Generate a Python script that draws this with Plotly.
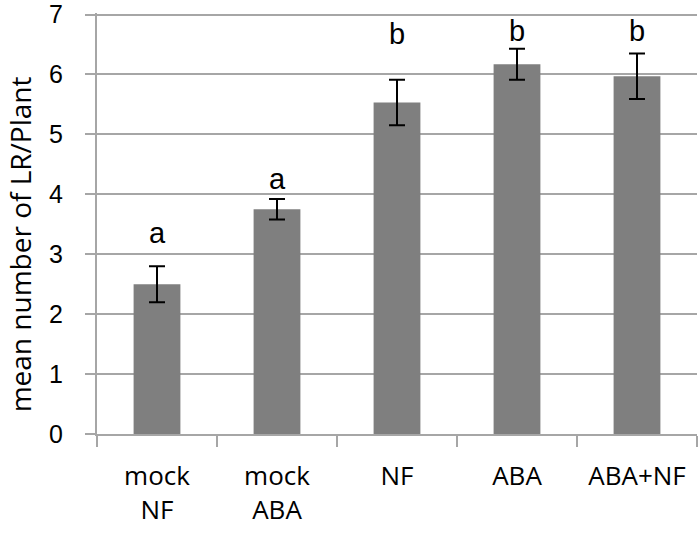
import plotly.graph_objects as go

categories = ["mock<br>NF", "mock<br>ABA", "NF", "ABA", "ABA+NF"]
means = [2.5, 3.75, 5.53, 6.17, 5.97]
errors = [0.30, 0.17, 0.38, 0.26, 0.38]
letters = ["a", "a", "b", "b", "b"]
letter_y = [3.36, 4.25, 6.68, 6.72, 6.72]
y_ticks = [0, 1, 2, 3, 4, 5, 6, 7]

GRID = "#a6a6a6"
XTICKFONT = dict(family="Open Sans", size=26, color="#000000")
YTICKFONT = dict(family="Liberation Sans", size=25, color="#000000")

fig = go.Figure()
fig.add_trace(go.Bar(
    x=categories, y=means, width=0.39,
    marker=dict(color="#7f7f7f", line=dict(width=0)),
    error_y=dict(type="data", array=errors, visible=True,
                 color="#000000", thickness=2, width=8),
))

for c, t, ly in zip(categories, letters, letter_y):
    fig.add_annotation(x=c, y=ly, text=t, showarrow=False,
                       font=dict(family="Liberation Sans", size=29, color="#000000"),
                       xref="x", yref="y")

fig.add_annotation(x=-0.128, y=0.451, xref="paper", yref="paper",
                   xanchor="center", yanchor="middle",
                   text="mean number of LR/Plant", textangle=-90, showarrow=False,
                   font=dict(family="Open Sans", size=28, color="#000000"))

fig.update_layout(
    width=700, height=534,
    margin=dict(l=97, r=3, t=13, b=100),
    plot_bgcolor="white", paper_bgcolor="white",
    showlegend=False,
    xaxis=dict(
        type="category", tickson="boundaries", ticks="outside", ticklen=11,
        tickcolor=GRID, tickwidth=2, showline=True, linecolor=GRID, linewidth=2,
        showgrid=False, tickfont=XTICKFONT, range=[-0.5, 4.5],
        ticklabelstandoff=18, automargin=False,
    ),
    yaxis=dict(
        range=[0, 7.025], tickvals=y_ticks, ticks="outside", ticklen=10,
        tickcolor=GRID, tickwidth=2, showline=True, linecolor=GRID, linewidth=2,
        showgrid=True, gridcolor=GRID, gridwidth=2, zeroline=False,
        tickfont=YTICKFONT, ticklabelstandoff=17, ticklabeloverflow="allow",
        automargin=False,
    ),
)

fig.write_html("out.html", config={"displayModeBar": False},
               post_script="document.body.style.margin='0';")
